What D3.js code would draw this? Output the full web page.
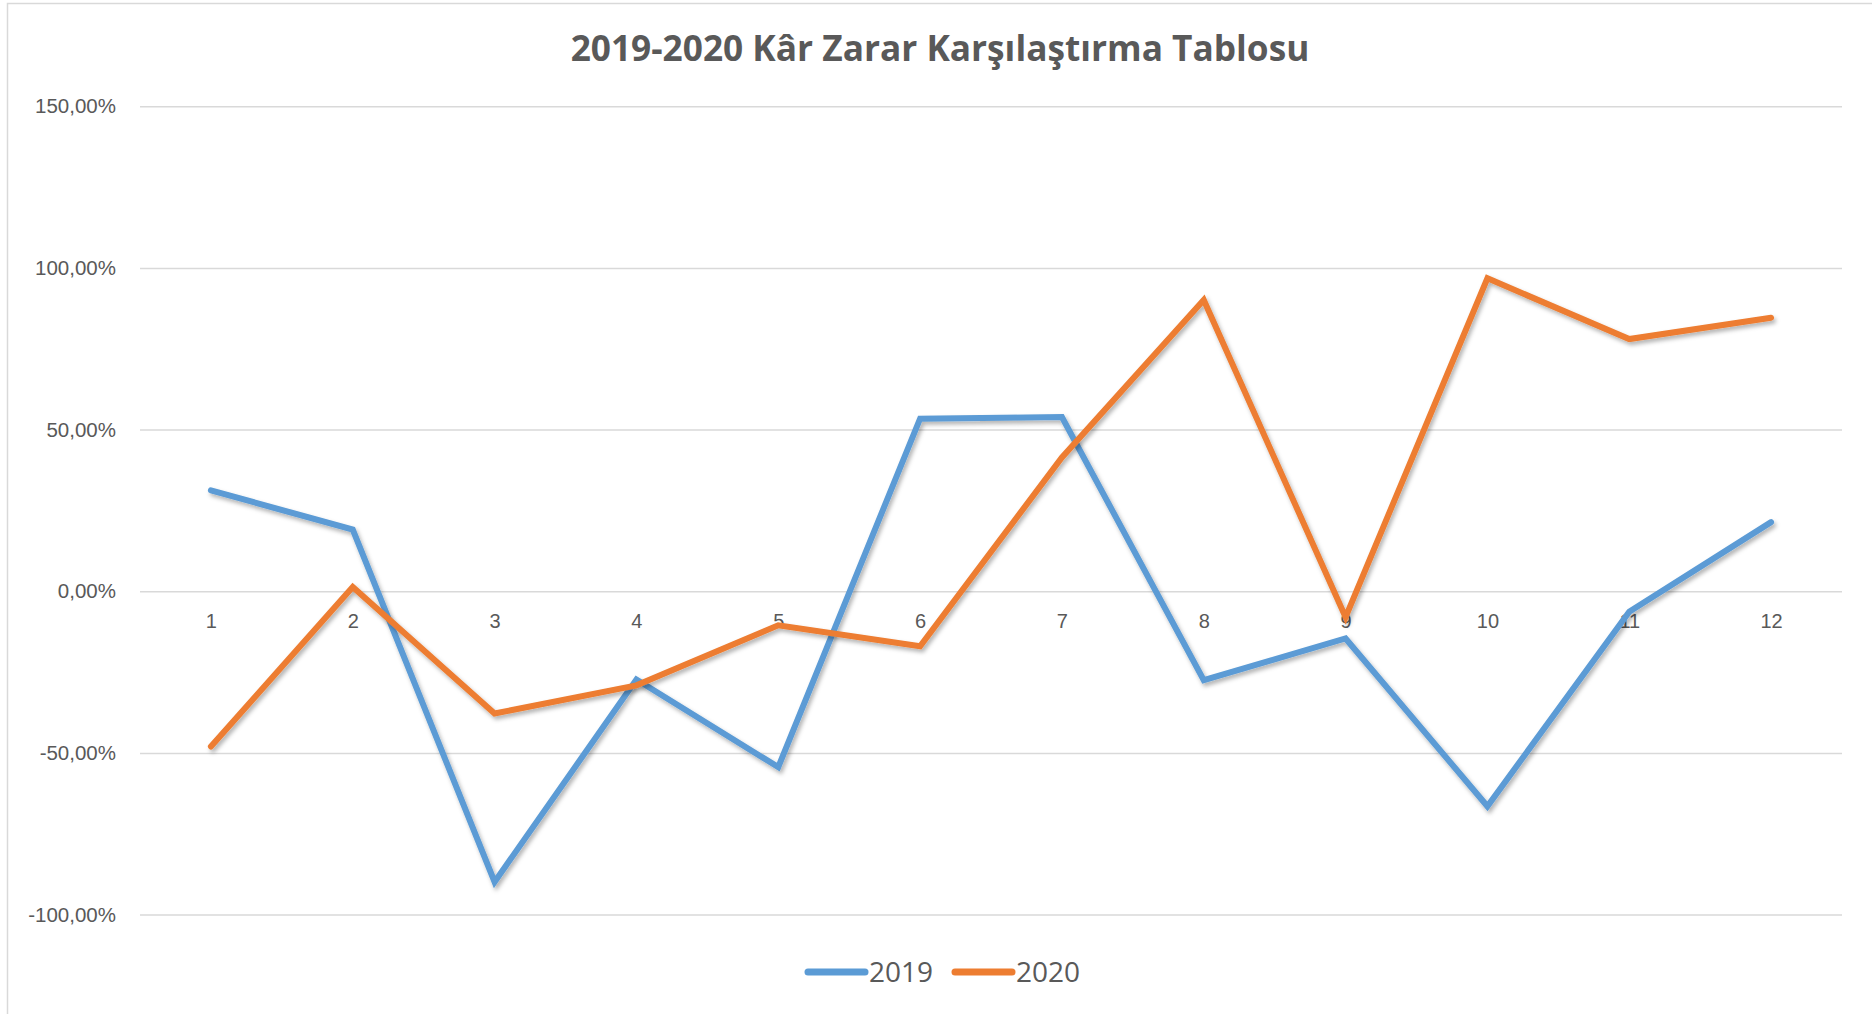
<!DOCTYPE html>
<html>
<head>
<meta charset="utf-8">
<title>2019-2020 Kâr Zarar Karşılaştırma Tablosu</title>
<style type="text/css">
body {margin: 0; background: #fff;}
svg {display: block; font-family: "Open Sans", sans-serif;}
.grid line {stroke: #d9d9d9; stroke-width: 1.5;}
.tick text {fill: #595959;}
</style>
</head>
<body>
<svg width="1872" height="1014"></svg>
<script src="https://d3js.org/d3.v7.min.js"></script>
<script>
var months = ["1", "2", "3", "4", "5", "6", "7", "8", "9", "10", "11", "12"];
var seriesNames = ["2019", "2020"];
var values2019 = [0.312, 0.191, -0.899, -0.273, -0.544, 0.534, 0.539, -0.275, -0.146, -0.665, -0.063, 0.214];
var values2020 = [-0.480, 0.013, -0.378, -0.291, -0.105, -0.170, 0.414, 0.901, -0.080, 0.968, 0.780, 0.846];
var yTicks = [-1, -0.5, 0, 0.5, 1, 1.5];

var svg = d3.select("svg"),
    width = +svg.attr("width"),
    height = +svg.attr("height");

var colors = d3.scaleOrdinal().domain(seriesNames).range(["#5b9bd5", "#ed7d31"]);

// chart frame (only left / top edges are visible)
svg.append("rect")
    .attr("x", 7.5).attr("y", 3.5)
    .attr("width", width).attr("height", height)
    .attr("fill", "#fff")
    .attr("stroke", "#d9d9d9")
    .attr("stroke-width", 1.5);

var defs = svg.append("defs");
defs.append("filter")
    .attr("id", "shadow")
    .attr("x", "-10%").attr("y", "-10%")
    .attr("width", "120%").attr("height", "120%")
    .append("feDropShadow")
    .attr("dx", 2).attr("dy", 3)
    .attr("stdDeviation", 2)
    .attr("flood-color", "#000")
    .attr("flood-opacity", 0.3);

var x = d3.scalePoint().domain(months).range([140, 1842]).padding(0.5);
var y = d3.scaleLinear().domain([-1, 1.5]).range([914.6, 106.3]);

// excel style: 150,00% with a plain hyphen for negatives
var fmt = function(d) {
    return (d * 100).toFixed(2).replace(".", ",") + "%";
};

// gridlines + y labels
var yAxis = svg.append("g")
    .attr("class", "grid")
    .attr("transform", "translate(140,0)")
    .call(d3.axisLeft(y).tickValues(yTicks).tickSize(-1702).tickPadding(24).tickFormat(fmt));
yAxis.select(".domain").remove();
yAxis.selectAll("text").attr("font-size", 20.5);

// category labels sit under the zero line
var xAxis = svg.append("g")
    .attr("transform", "translate(0," + y(0) + ")")
    .call(d3.axisBottom(x).tickSize(0).tickPadding(23));
xAxis.select(".domain").remove();
xAxis.selectAll("text").attr("font-size", 20);

var line = d3.line()
    .x(function(d, i) { return x(months[i]); })
    .y(function(d) { return y(d); });

var data = [values2019, values2020];
svg.append("g")
    .selectAll("path")
    .data(data)
    .enter().append("path")
    .attr("d", line)
    .attr("fill", "none")
    .attr("stroke", function(d, i) { return colors(seriesNames[i]); })
    .attr("stroke-width", 6)
    .attr("stroke-linejoin", "miter")
    .attr("stroke-linecap", "round")
    .attr("filter", "url(#shadow)");

// title
var title = svg.append("text")
    .attr("x", 940)
    .attr("y", 61)
    .attr("text-anchor", "middle")
    .attr("font-weight", "bold")
    .attr("font-size", 32)
    .attr("fill", "#595959")
    .text("2019-2020 Kâr Zarar Karşılaştırma Tablosu");
var tw = title.node().getComputedTextLength();
title.attr("font-size", 32 * 739 / tw);

// legend
var legend = svg.append("g")
    .selectAll("g")
    .data(seriesNames)
    .enter().append("g")
    .attr("transform", function(d, i) { return "translate(" + (808 + i * 147) + ",972)"; });
legend.append("line")
    .attr("x1", 0).attr("x2", 57)
    .attr("stroke", colors)
    .attr("stroke-width", 7)
    .attr("stroke-linecap", "round");
legend.append("text")
    .attr("x", 61)
    .attr("y", 10)
    .attr("font-size", 28)
    .attr("fill", "#595959")
    .text(function(d) { return d; });
</script>
</body>
</html>
